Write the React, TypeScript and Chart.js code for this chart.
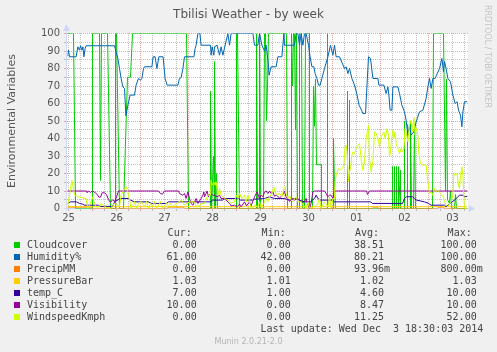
import React, { useEffect, useRef } from "react";
import { Chart, registerables } from "chart.js";

Chart.register(...registerables);

// ---------- texts ----------
const chartTitle = "Tbilisi Weather - by week";
const yAxisTitle = "Environmental Variables";
const watermark = "RRDTOOL / TOBI OETIKER";
const footerText = "Munin 2.0.21-2.0";
const lastUpdate = "Last update: Wed Dec  3 18:30:03 2014";

// ---------- x axis (hours after Nov 25 00:00) ----------
const startHour = 11.5;
const endHour = 211.5;
const dayLabelHours = [12, 36, 60, 84, 108, 132, 156, 180, 204];
const dayLabels = ["25", "26", "27", "28", "29", "30", "01", "02", "03"];

// ---------- legend ----------
const seriesNames = ["Cloudcover", "Humidity%", "PrecipMM", "PressureBar", "temp_C", "Visibility", "WindspeedKmph"];
const seriesColors = ["#00CC00", "#0066B3", "#FF8000", "#FFCC00", "#330099", "#990099", "#CCFF00"];
const curValues = ["0.00", "61.00", "0.00", "1.03", "7.00", "10.00", "0.00"];
const minValues = ["0.00", "42.00", "0.00", "1.01", "1.00", "0.00", "0.00"];
const avgValues = ["38.51", "80.21", "93.96m", "1.02", "4.60", "8.47", "11.25"];
const maxValues = ["100.00", "100.00", "800.00m", "1.03", "10.00", "10.00", "52.00"];

// ---------- series: [hour, value] (30-minute resolution) ----------
const cloudcover = [
  [11.5, 100], [14.5, 100], [15.5, 0], [24, 0], [24, 100], [27.5, 100], [28, 16], [28.5, 100], [31.5, 100], [33, 0],
  [35.5, 0], [35.5, 100], [36, 100], [37.5, 0], [39.5, 0], [41.5, 75], [43, 75], [44, 100], [71, 100], [72, 0],
  [83, 0], [83, 67], [83.5, 0], [84.5, 30], [85, 0], [85, 84], [85.5, 0], [86, 20], [86.5, 0],
  [96, 0], [96, 100], [96.5, 100], [97.5, 0],
  [106, 0], [106, 100], [106.5, 0], [107.5, 0], [107.5, 100], [108, 0], [109.5, 0], [110, 100], [110.5, 100], [111, 50],
  [111.5, 70], [112, 100], [121, 100], [121.5, 0],
  [123.5, 0], [123.5, 100], [124, 70], [124.5, 100], [125, 100], [125.5, 45], [126, 100], [126.5, 0], [127.5, 0],
  [127.5, 100], [128.5, 100], [129, 0], [130, 0], [130.5, 100], [132.5, 100], [132.5, 0], [134, 0], [134.5, 70], [135, 47],
  [135.5, 74], [136, 25], [138.5, 25], [138.5, 0], [141.5, 0], [141.5, 100], [141.5, 0], [144.5, 0], [144.5, 40], [145, 12],
  [145.5, 0], [151.5, 0], [151.5, 67], [151.5, 0], [152.5, 0], [152.5, 62], [152.5, 0],
  [174, 0], [174, 24], [174, 0], [175, 0], [175, 24], [175, 0], [176, 0], [176, 24], [176, 0], [177, 0], [177, 24],
  [177.5, 10], [178, 0], [178, 22], [178, 0],
  [180, 0], [180, 50], [180, 0], [181.5, 0], [181.5, 48], [181.5, 0], [183, 0], [183, 50], [183.5, 0], [184.5, 0], [185, 48],
  [185.5, 0], [194, 0], [194.5, 100], [199.5, 100], [200.5, 10], [201, 74], [201.5, 5], [202.5, 3], [203, 10], [203.5, 0],
  [205, 0], [205.5, 8], [206, 0], [211.5, 0],
];

const humidity = [
  [11.5, 87], [12, 90.5], [12.5, 86.7], [15.8, 86.7], [16.7, 92.4], [17.5, 90.5], [18, 93], [18.7, 90.5], [19.2, 92.4],
  [19.7, 86.7], [20.3, 91.4], [20.8, 93], [35, 93], [35.8, 89.5], [36.7, 85.7], [37.5, 80], [38.3, 74.3], [39.2, 69.5],
  [40, 68.6], [40.7, 53], [41.7, 59], [42.8, 64.8], [45, 64.8], [45.8, 70.5], [47, 74.3], [48, 73.3], [48.7, 74.3],
  [49.5, 80], [50, 81], [53.7, 81], [54.3, 86.7], [55.3, 86.7], [56.2, 80], [57.2, 86.7], [59.3, 86.7], [60.3, 74.3],
  [61.3, 70.5], [66.7, 70.5], [67.5, 74.3], [68.3, 74.7], [69.2, 80], [70, 86.7], [74.7, 86.7], [75.3, 91.4], [75.8, 93.3],
  [76.7, 100], [77.7, 100], [78.3, 93.3], [83, 93.3], [83.3, 87.6], [83.8, 92.4], [84.7, 87.6], [85, 92.4], [86.3, 93.3],
  [87.5, 87.6], [88.3, 92.4], [89.2, 87.6], [90.3, 93.3], [91.7, 100], [92.5, 93.3], [93.3, 100], [104.2, 100], [105, 93.3],
  [106.7, 93.3], [107.5, 100], [108.7, 93.3], [110, 90], [110.8, 93.3], [111.7, 85], [112.3, 76.2], [113.3, 81], [115.8, 81],
  [116.7, 86.7], [118.7, 86.7], [119.7, 100], [120, 93.3], [125, 93.3], [125.8, 100], [126.7, 100], [127.5, 93.3],
  [128.3, 100], [129.2, 93.3], [130, 100], [130.8, 100], [132, 93.3], [132.8, 86.7], [133.7, 81], [134.7, 81], [135.3, 77.1],
  [136.2, 74.3], [137, 70.5], [137.8, 70.5], [138.7, 74.3], [140, 80], [141.7, 86.7], [143, 93.3], [144.2, 87.6], [145, 93.3],
  [145.8, 86.7], [147.5, 86.7], [150, 80], [150.8, 81], [151.7, 77.1], [152.5, 80], [153.7, 74.3], [155, 70.5], [156.3, 64.8],
  [157.3, 59], [158.5, 56.2], [159.2, 54.3], [160.5, 54.3], [162, 86.7], [163, 85.7], [164.2, 74.3], [166.7, 74.3],
  [167.2, 70.5], [169.7, 70.5], [170.8, 65.7], [171.7, 69.5], [172.2, 64.8], [172.8, 56.2], [173.7, 56.2], [174.2, 69.5],
  [176.7, 69.5], [177.5, 65.7], [178.7, 59], [180, 55.2], [180.8, 50.5], [181.7, 41.9], [182.5, 47.6], [183.3, 42],
  [184.7, 43.8], [185.8, 49.5], [187.5, 55.2], [189.2, 56.2], [190.8, 62.9], [191.7, 69.5], [192.5, 74.3], [193.3, 68.6],
  [194.2, 74.3], [195.3, 74.3], [197.5, 80], [198.7, 85.7], [199.5, 78.1], [200, 84], [200.8, 80], [201.7, 74.3], [203, 72.4],
  [204.2, 64.8], [205.3, 60], [206.3, 61], [207, 56.2], [208, 53.3], [208.7, 46.7], [209.2, 55.2], [210, 61], [211.5, 61],
];

const precipMM = [
  [11.5, 0.8], [23.5, 0.8], [24, 0], [61.5, 0], [62, 0.8], [69.5, 0.8], [70, 0], [164, 0], [164.5, 0.8], [166.5, 0.8],
  [167, 0], [196.5, 0], [197, 0.8], [199.5, 0.8], [200, 0], [211.5, 0],
];

const pressureBar = [
  [11.5, 1.02], [60, 1.02], [61, 1.01], [100, 1.01], [101, 1.02], [150, 1.02], [151, 1.03], [211.5, 1.03],
];

const tempC = [
  [11.5, 3], [13, 3.8], [16, 3.8], [17.5, 2.9], [19, 2.5], [20, 1.9], [27, 1.9], [28, 1.2], [34, 1.2], [34.5, 2.5],
  [35.5, 4.5], [37, 5], [37.5, 5.7], [42, 5.7], [43, 4.8], [45, 3.8], [52, 3.8], [53.5, 2.9], [61, 2.9], [62, 3.8],
  [83, 3.8], [84, 4.8], [89, 4.8], [90, 5.7], [97, 5.7], [98, 4.8], [104, 4.8], [105, 5.3], [110, 5.7], [112.5, 6.7],
  [115, 5.7], [120, 5.7], [122.5, 4.8], [125, 5.7], [127, 5], [130, 3.8], [133, 3.8], [134, 4.8], [135, 5.7], [135.8, 7.6],
  [136.7, 5.7], [138, 4.8], [144, 4.8], [145, 3.8], [163, 3.8], [164, 2.9], [179, 2.9], [180, 5.7], [181, 6.7], [184, 6.7],
  [185, 5.7], [186, 4.8], [190, 3.8], [192, 2.9], [193.3, 1.9], [200, 1.9], [200.8, 1], [201.7, 1.9], [202.5, 2.9],
  [203.7, 3.8], [205, 4.8], [206.7, 6.7], [207.5, 7.6], [209.2, 7.6], [210, 6.7], [211.5, 7],
];

const visibility = [
  [11.5, 10], [21, 10], [21.3, 9], [22, 10], [23, 9.2], [24, 10], [25.5, 9], [26.3, 8], [27.2, 6.5], [28, 6.5], [28.8, 9],
  [30, 9], [31, 8], [32, 5], [33, 3.5], [34, 5], [35, 4], [36, 6.5], [37, 10], [57, 10], [58, 8.5], [59, 8.2], [60, 10],
  [67, 10], [67.5, 8.6], [69, 7.6], [70, 8.6], [70.8, 5.7], [71.7, 9.5], [72.5, 5.7], [73.3, 2.9], [74.2, 1.9], [75, 3.8],
  [75.8, 5.7], [76.7, 2.9], [78.3, 5.7], [79.2, 7.6], [79.7, 9.5], [80, 6.7], [80.8, 8.6], [81.3, 10], [82, 6.7], [83, 8.6],
  [84.2, 7.6], [85, 7.6], [86.3, 6.7], [87.5, 7.6], [88.3, 5.7], [89.7, 5.7], [90.8, 4.8], [92.5, 2.9], [93.3, 1.5], [95, 1.9],
  [96.3, 1], [97.5, 2.5], [98.3, 1], [100, 3.8], [101, 1.5], [102.5, 3.8], [103.3, 1.5], [105, 6.7], [106.3, 9.5], [107.5, 5.7],
  [108.3, 7.6], [109.2, 6.7], [110, 9.5], [110.8, 10], [111.7, 8.6], [112.5, 10], [113.3, 8.6], [114.2, 9.5], [115, 7],
  [116, 7.6], [117.5, 6], [119, 7.6], [120, 10], [120.8, 6.5], [121.7, 5.5], [122.5, 4], [124.2, 5.7], [125, 4.8],
  [126.7, 5.7], [128.3, 3.8], [129.2, 2.9], [130, 3.8], [130.8, 5.7], [131.7, 2], [132.5, 0], [133.3, 2.9], [134.2, 9.5],
  [135, 10], [140, 10], [140.8, 8.6], [141.7, 6.7], [142.5, 7.6], [143.3, 7.6], [144.2, 5.7], [145, 10], [161, 10],
  [161.5, 8], [162.5, 10], [211.5, 10],
];

const windspeedKmph = [
  [11.5, 1], [13.7, 16], [15, 7.6], [16.7, 6.7], [20.8, 5.7], [21.7, 0], [22.5, 2], [24.2, 6.7], [24.7, 4], [25.8, 1],
  [27.5, 1], [28.3, 3], [30, 1], [33, 0], [35, 3], [37.5, 1], [38.3, 7.6], [40, 11.4], [40.8, 12.4], [41.7, 9.5], [42.5, 4.8],
  [43.3, 0], [44.5, 2], [45, 4], [46, 0], [47, 3], [48.3, 4], [50, 1], [51, 4], [52, 0], [53, 3], [54, 1], [55, 4], [56, 0],
  [57, 2], [58, 4], [59, 0], [60, 2], [61, 3], [62, 1], [63, 3], [64, 1], [65, 2], [68.5, 4.8], [70, 2], [72.5, 3.8],
  [75, 3.8], [76, 1], [77.5, 1.5], [78.3, 2.9], [80, 2.9], [81.7, 7.6], [83, 7.6], [83.3, 16.2], [83.8, 13.3], [84.7, 15.2],
  [85.3, 13.3], [85.8, 15.2], [86.7, 7.6], [87.5, 11.4], [88.3, 7.6], [89.2, 6.7], [90, 5.7], [91.7, 4.8], [93.3, 2.9],
  [95, 3.8], [95.8, 7.6], [96.7, 5.7], [97.5, 8.6], [98.7, 5.7], [100, 7.6], [100.8, 3.8], [101.7, 7.6], [102.5, 3.8],
  [103.3, 0], [105, 1.9], [106.7, 1], [107.5, 3.8], [108.3, 1], [109.7, 2.9], [110.8, 5.7], [111.7, 3.8], [112.5, 6.7],
  [113.7, 8.6], [114.7, 12.4], [115.3, 9.5], [116.3, 7.6], [117.5, 8.6], [118.7, 6.7], [119.7, 11.4], [120.3, 12.4],
  [120.8, 8.6], [121.7, 5.7], [122.5, 7.6], [123.3, 4.8], [124.2, 3.8], [125, 5.7], [125.8, 6.7], [126.7, 3.8], [128.3, 3.8],
  [130, 1], [130.8, 0], [131.7, 3.8], [132.5, 0], [135, 1], [136.7, 2.9], [137.5, 5.7], [138.3, 0], [140, 3.8], [141.7, 1],
  [142.5, 6.7], [143.3, 0], [144.2, 5.7], [145, 5.7], [145.3, 15.2], [145.8, 19], [147, 22.9], [148, 21.9], [148.8, 22.9],
  [149.7, 24.8], [150.3, 35.2], [150.8, 36.2], [151.3, 32.4], [152, 15.2], [152.5, 21], [153, 22.9], [153.7, 30.5],
  [154.3, 32.4], [155, 31.4], [155.8, 34.3], [156.7, 36.2], [157.5, 37.1], [158.3, 28.6], [159.2, 21.9], [160, 26.7],
  [160.8, 40], [162, 47.6], [162.5, 28.6], [163.3, 21], [164.2, 26.7], [165, 43.8], [165.8, 42.9], [166.7, 40], [167.5, 35.2],
  [168, 40], [168.7, 41.9], [169.7, 43.8], [170.3, 40], [171.3, 45.7], [172, 41.9], [172.5, 29.5], [173, 32.4], [173.3, 37.1],
  [174.2, 44.8], [174.7, 40], [175.3, 43.8], [175.8, 37.1], [176.7, 34.3], [177.5, 31.4], [178.3, 34.3], [178.8, 32.4],
  [179.7, 34.3], [180.3, 45.7], [180.8, 43.8], [181.7, 38.1], [182.5, 47.6], [183.3, 50.5], [183.8, 43.8], [184.7, 52],
  [185.3, 41.9], [186, 45.7], [186.7, 41.9], [187.2, 31.4], [188, 25.7], [189.2, 24.8], [190.8, 24.8], [191.7, 15.2],
  [192.5, 8.6], [193.3, 9.5], [194.2, 7.6], [195, 11.4], [195.8, 9.5], [196.7, 10.5], [198, 8.6], [199.2, 6.7], [200, 3.8],
  [200.8, 1.9], [201.7, 1], [202.5, 2.9], [203.3, 3.8], [204.2, 7.6], [204.7, 20], [205.3, 19], [206.3, 20], [207, 13.3],
  [207.5, 11.4], [208, 19], [208.7, 23.8], [209.2, 19], [209.7, 6.7], [210, 0], [211.5, 0],
];

const seriesData = [cloudcover, humidity, precipMM, pressureBar, tempC, visibility, windspeedKmph];

// ---------- style ----------
const BG = "#F0F0F0";
const FONT_COLOR = "#555555";
const LEGEND_COLOR = "#444444";
const MINOR_GRID = "rgba(143,143,143,0.55)";
const MAJOR_GRID = "rgba(222,79,79,0.5)";
const AXIS_COLOR = "#CFD6F8";
const SANS = "'DejaVu Sans'";
const MONO = "'DejaVu Sans Mono'";

const muninPlugin = {
  id: "muninDecor",
  beforeDraw(chart: any) {
    const { ctx, chartArea: a, width, height } = chart;
    ctx.save();
    ctx.fillStyle = BG;
    ctx.fillRect(0, 0, width, height);
    ctx.fillStyle = "#FFFFFF";
    const l = Math.floor(a.left), t = Math.floor(a.top);
    ctx.fillRect(l, t, Math.ceil(a.right) - l, Math.ceil(a.bottom) - t);
    ctx.restore();
  },
  beforeDatasetsDraw(chart: any) {
    const { ctx, chartArea: a, scales } = chart;
    const xs = scales.x;
    const ys = scales.y;
    const top = Math.floor(a.top);
    const bottom = Math.floor(a.bottom);
    const left = Math.floor(a.left);
    const right = Math.ceil(a.right);
    ctx.save();
    ctx.lineWidth = 1;
    // vertical grid every 6h, major at midnight
    for (let h = Math.ceil(startHour / 6) * 6; h <= endHour; h += 6) {
      const px = Math.floor(xs.getPixelForValue(h)) + 0.5;
      ctx.strokeStyle = h % 24 === 0 ? MAJOR_GRID : MINOR_GRID;
      ctx.setLineDash([1, 1]);
      ctx.beginPath();
      ctx.moveTo(px, top);
      ctx.lineTo(px, bottom);
      ctx.stroke();
      ctx.setLineDash([]);
      ctx.beginPath();
      ctx.moveTo(px, bottom + 1);
      ctx.lineTo(px, bottom + 3);
      ctx.stroke();
    }
    // horizontal grid every 5, major every 10
    for (let v = 5; v <= 100; v += 5) {
      const py = Math.floor(ys.getPixelForValue(v)) + 0.5;
      ctx.strokeStyle = v % 10 === 0 ? MAJOR_GRID : MINOR_GRID;
      ctx.setLineDash([1, 1]);
      ctx.beginPath();
      ctx.moveTo(left, py);
      ctx.lineTo(right, py);
      ctx.stroke();
      ctx.setLineDash([]);
      ctx.beginPath();
      ctx.moveTo(left - 3, py);
      ctx.lineTo(left - 1, py);
      ctx.stroke();
    }
    // axes + arrows
    const ax = left - 0.5;
    const ay = bottom + 0.5;
    ctx.strokeStyle = AXIS_COLOR;
    ctx.beginPath();
    ctx.moveTo(ax, ay + 2);
    ctx.lineTo(ax, top - 3);
    ctx.moveTo(ax - 2, ay);
    ctx.lineTo(right + 2, ay);
    ctx.stroke();
    ctx.fillStyle = AXIS_COLOR;
    ctx.beginPath();
    ctx.moveTo(ax, top - 9);
    ctx.lineTo(ax - 3.5, top - 2);
    ctx.lineTo(ax + 3.5, top - 2);
    ctx.closePath();
    ctx.fill();
    ctx.beginPath();
    ctx.moveTo(right + 7, ay);
    ctx.lineTo(right + 1, ay - 3.5);
    ctx.lineTo(right + 1, ay + 3.5);
    ctx.closePath();
    ctx.fill();
    ctx.restore();
  },
  afterDraw(chart: any) {
    const { ctx, chartArea: a, width } = chart;
    ctx.save();
    // title
    ctx.fillStyle = FONT_COLOR;
    ctx.font = `12px ${SANS}`;
    ctx.textAlign = "center";
    ctx.textBaseline = "alphabetic";
    ctx.fillText(chartTitle, width / 2, 18);
    // y axis title
    ctx.save();
    ctx.translate(15, (a.top + a.bottom) / 2);
    ctx.rotate(-Math.PI / 2);
    ctx.font = `11px ${SANS}`;
    ctx.textAlign = "center";
    ctx.fillText(yAxisTitle, 0, 0);
    ctx.restore();
    // watermark
    ctx.save();
    ctx.translate(484.5, 5);
    ctx.rotate(Math.PI / 2);
    ctx.font = `8px ${SANS}`;
    ctx.fillStyle = "#C4C4C4";
    ctx.textAlign = "left";
    ctx.textBaseline = "alphabetic";
    ctx.fillText(watermark, 0, 0);
    ctx.restore();
    // legend
    ctx.font = `10px ${MONO}`;
    ctx.fillStyle = LEGEND_COLOR;
    ctx.textBaseline = "alphabetic";
    const colRight = [202.7, 296.7, 390, 482.7];
    const headers = ["Cur:", "Min:", "Avg:", "Max:"];
    ctx.textAlign = "right";
    headers.forEach((h, i) => ctx.fillText(h, colRight[i] - 11, 236));
    const cols = [curValues, minValues, avgValues, maxValues];
    seriesNames.forEach((name, i) => {
      const y = 248 + 12 * i;
      ctx.fillStyle = seriesColors[i];
      ctx.fillRect(14, y - 6, 6, 6);
      ctx.fillStyle = LEGEND_COLOR;
      ctx.textAlign = "left";
      ctx.fillText(name, 27, y - 0.3);
      ctx.textAlign = "right";
      cols.forEach((col, c) => {
        const s = col[i];
        const txt = s.endsWith("m") ? s : s + " ";
        ctx.fillText(txt, colRight[c], y);
      });
    });
    ctx.textAlign = "right";
    ctx.fillText(lastUpdate, 483.3, 332);
    // footer
    ctx.font = `8px ${SANS}`;
    ctx.fillStyle = "#B4B4B4";
    ctx.textAlign = "center";
    ctx.fillText(footerText, width / 2, 344);
    ctx.restore();
  },
};

export default function App() {
  const canvasRef = useRef<HTMLCanvasElement | null>(null);

  useEffect(() => {
    const canvas = canvasRef.current;
    if (!canvas) return;
    const datasets = seriesNames.map((name, i) => ({
      label: name,
      data: seriesData[i].map(([x, y]) => ({ x, y })),
      borderColor: seriesColors[i],
      backgroundColor: seriesColors[i],
      borderWidth: 1,
      pointRadius: 0,
      tension: 0,
      fill: false,
      order: 20 - i,
    }));
    const chart = new Chart(canvas, {
      type: "line",
      data: { datasets },
      plugins: [muninPlugin],
      options: {
        animation: false,
        responsive: false,
        devicePixelRatio: 1,
        events: [],
        layout: { padding: { top: 33.5, right: 29.5, bottom: 0, left: 0 } },
        plugins: {
          legend: { display: false },
          title: { display: false },
          tooltip: { enabled: false },
        },
        scales: {
          x: {
            type: "linear",
            min: startHour,
            max: endHour,
            grid: { display: false, drawTicks: false },
            border: { display: false },
            afterFit: (scale: any) => {
              scale.height = 143.5;
            },
            afterBuildTicks: (scale: any) => {
              scale.ticks = dayLabelHours.map((v) => ({ value: v }));
            },
            ticks: {
              autoSkip: false,
              maxRotation: 0,
              minRotation: 0,
              padding: 4,
              color: FONT_COLOR,
              font: { family: "DejaVu Sans", size: 10 },
              callback: (value: any) => {
                const idx = dayLabelHours.indexOf(Number(value));
                return idx >= 0 ? dayLabels[idx] : "";
              },
            },
          },
          y: {
            type: "linear",
            min: 0,
            max: 100,
            grid: { display: false, drawTicks: false },
            border: { display: false },
            afterFit: (scale: any) => {
              scale.width = 67.5;
            },
            ticks: {
              stepSize: 10,
              padding: 7.5,
              color: FONT_COLOR,
              font: { family: "DejaVu Sans", size: 10 },
            },
          },
        },
      },
    } as any);
    return () => chart.destroy();
  }, []);

  return (
    <div style={{ position: "fixed", left: 0, top: 0, width: 497, height: 352, background: BG }}>
      <canvas ref={canvasRef} width={497} height={352} style={{ display: "block", width: 497, height: 352 }} />
    </div>
  );
}
